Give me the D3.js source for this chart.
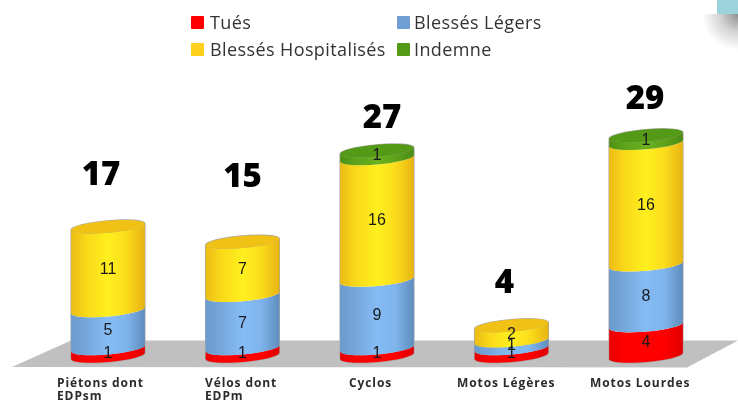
<!DOCTYPE html>
<html>
<head>
<meta charset="utf-8">
<style>
  html, body { margin: 0; background: #fff; overflow: hidden; }
  svg { display: block; filter: blur(0.5px); }
</style>
</head>
<body>
<script src="https://cdn.jsdelivr.net/npm/d3@7"></script>
<script>

  const categories = [['Piétons dont', 'EDPsm'], ['Vélos dont', 'EDPm'], ['Cyclos'], ['Motos Légères'], ['Motos Lourdes']]
  const tues = [1, 1, 1, 1, 4]
  const blessesLegers = [5, 7, 9, 1, 8]
  const blessesHospitalises = [11, 7, 16, 2, 16]
  const indemne = [0, 0, 1, 0, 1]

  const seriesNames = ['Tués', 'Blessés Légers', 'Blessés Hospitalisés', 'Indemne']
  const seriesValues = [tues, blessesLegers, blessesHospitalises, indemne]

  // label placement, the totals are not at a constant distance from the bars
  const totalDx = [-7, 0, 5, -7, -1]
  const totalDy = [42, 55, 23, 33, 27]
  const categoryLabelX = [57, 205, 349, 457, 590]

  const width = 738,
        height = 402

  const colors = {
    'Tués': {side: ['#e80000', '#ff0000', '#ff0000', '#ff0000', '#e00000'], top: '#f00000', legend: '#ff0000'},
    'Blessés Légers': {side: ['#6b9bcd', '#77a8dc', '#85bcf5', '#7fb4ec', '#5f8dbd'], top: '#6f9fd2', legend: '#6f9fd2'},
    'Blessés Hospitalisés': {side: ['#ecbc14', '#fada1a', '#fff01e', '#fbdc1c', '#e8b412'], top: '#f0c216', legend: '#fdd01e'},
    'Indemne': {side: ['#4f9015', '#5ea31a', '#6bb01f', '#5ea31a', '#4a8a14'], top: '#559a17', legend: '#559a17'}
  }

  const x = d3.scaleBand()
    .domain(d3.range(categories.length))
    .range([71, 683])
    .paddingInner(0.45)

  const y = d3.scaleLinear()
    .domain([0, 29])
    .range([356, 135.6])

  const rx = x.bandwidth() / 2,
        ry = 6,
        tilt = -5,
        dxTilt = rx * Math.cos(tilt * Math.PI / 180),
        dyTilt = rx * Math.sin(tilt * Math.PI / 180)

  const table = categories.map((c, i) => {
    const row = {i}
    seriesNames.forEach((s, j) => row[s] = seriesValues[j][i])
    return row
  })
  const stacked = d3.stack().keys(seriesNames)(table)

  const svg = d3.select('body')
    .append('svg')
      .attr('width', width)
      .attr('height', height)

  const defs = svg.append('defs')

  seriesNames.forEach((s, j) => {
    const grad = defs.append('linearGradient')
      .attr('id', `side${j}`)
    grad.selectAll('stop')
      .data(colors[s].side)
      .enter()
      .append('stop')
        .attr('offset', (d, k) => [0, 0.22, 0.5, 0.75, 1][k])
        .attr('stop-color', d => d)
  })

  const cornerGrad = defs.append('radialGradient')
    .attr('id', 'cornerShadow')
  cornerGrad.append('stop').attr('offset', 0).attr('stop-color', '#8f8f8f')
  cornerGrad.append('stop').attr('offset', 0.5).attr('stop-color', '#d4d4d4')
  cornerGrad.append('stop').attr('offset', 1).attr('stop-color', '#fff')

  // page decoration in the top right corner
  svg.append('circle')
    .attr('cx', 738)
    .attr('cy', 14)
    .attr('r', 36)
    .attr('fill', 'url(#cornerShadow)')
  svg.append('rect')
    .attr('x', 640)
    .attr('y', 0)
    .attr('width', 98)
    .attr('height', 14)
    .attr('fill', '#fff')
  svg.append('rect')
    .attr('x', 717)
    .attr('y', 0)
    .attr('width', 21)
    .attr('height', 14)
    .attr('fill', '#9cd3db')

  // floor
  svg.append('polygon')
    .attr('points', '12,367 71,340.5 738,340.5 687,367.5')
    .attr('fill', '#c0c0c0')

  function sidePath(cx, y0, y1) {
    return `M${cx - dxTilt},${y0 - dyTilt}` +
      `A${rx},${ry} ${tilt} 0 0 ${cx + dxTilt},${y0 + dyTilt}` +
      `L${cx + dxTilt},${y1 + dyTilt}` +
      `A${rx},${ry} ${tilt} 0 1 ${cx - dxTilt},${y1 - dyTilt}Z`
  }

  function topPath(cx, yTop) {
    return `M${cx - dxTilt},${yTop - dyTilt}` +
      `A${rx},${ry} ${tilt} 1 1 ${cx + dxTilt},${yTop + dyTilt}` +
      `A${rx},${ry} ${tilt} 1 1 ${cx - dxTilt},${yTop - dyTilt}Z`
  }

  const cx = i => x(i) + rx
  const totals = table.map((d, i) => d3.sum(seriesValues, s => s[i]))

  // thin grey halo round each cylinder
  svg.selectAll('.halo')
    .data(totals)
    .enter()
    .append('path')
      .attr('class', 'halo')
      .attr('d', (d, i) => sidePath(cx(i), y(0), y(d)) + topPath(cx(i), y(d)))
      .attr('fill', 'none')
      .attr('stroke', '#a8a8a8')
      .attr('stroke-width', 1.4)

  stacked.forEach((layer, j) => {
    const kept = layer.filter(d => d[1] > d[0])

    svg.selectAll(`.side${j}`)
      .data(kept)
      .enter()
      .append('path')
        .attr('class', `side${j}`)
        .attr('d', d => sidePath(cx(d.data.i), y(d[0]), y(d[1])))
        .attr('fill', `url(#side${j})`)

    svg.selectAll(`.top${j}`)
      .data(kept.filter(d => d[1] === totals[d.data.i]))
      .enter()
      .append('path')
        .attr('class', `top${j}`)
        .attr('d', d => topPath(cx(d.data.i), y(d[1])))
        .attr('fill', colors[seriesNames[j]].top)
  })

  stacked.forEach((layer, j) => {
    svg.selectAll(`.value${j}`)
      .data(layer.filter(d => d[1] > d[0]))
      .enter()
      .append('text')
        .attr('class', `value${j}`)
        .attr('x', d => cx(d.data.i))
        .attr('y', d => y((d[0] + d[1]) / 2))
        .attr('dy', '0.36em')
        .attr('text-anchor', 'middle')
        .style('font-family', '"Liberation Sans"')
        .style('font-size', '16px')
        .attr('fill', '#1a1a1a')
        .text(d => d[1] - d[0])
  })

  svg.selectAll('.total')
    .data(totals)
    .enter()
    .append('text')
      .attr('class', 'total')
      .attr('x', (d, i) => cx(i) + totalDx[i])
      .attr('y', (d, i) => y(d) - totalDy[i])
      .attr('text-anchor', 'middle')
      .style('font-family', '"Open Sans"')
      .style('font-weight', 800)
      .style('font-size', '33px')
      .attr('fill', '#000')
      .text(d => d)

  const catLabels = svg.selectAll('.catLabel')
    .data(categories)
    .enter()
    .append('text')
      .attr('class', 'catLabel')
      .attr('y', 387)
      .style('font-family', '"Open Sans"')
      .style('font-weight', 700)
      .style('font-size', '12px')
      .style('letter-spacing', '0.9px')
      .attr('fill', '#2b2b2b')

  catLabels.selectAll('tspan')
    .data((d, i) => d.map(t => ({t, i})))
    .enter()
    .append('tspan')
      .attr('x', d => categoryLabelX[d.i])
      .attr('dy', (d, k) => k ? 13 : 0)
      .text(d => d.t)

  // legend, two rows of two
  const legendX = d3.scalePoint().domain([0, 1]).range([191, 397])
  const legendY = d3.scalePoint().domain([0, 1]).range([22.5, 49.5])

  const legend = svg.selectAll('.legend')
    .data(seriesNames)
    .enter()
    .append('g')
      .attr('class', 'legend')
      .attr('transform', (d, i) => `translate(${legendX(i % 2)}, ${legendY(Math.floor(i / 2))})`)

  legend.append('rect')
    .attr('y', -6.5)
    .attr('width', 13)
    .attr('height', 13)
    .attr('rx', 1)
    .attr('fill', d => colors[d].legend)

  legend.append('text')
    .attr('x', (d, i) => i % 2 ? 17 : 19)
    .attr('dy', '0.36em')
    .style('font-family', '"Open Sans"')
    .style('font-size', '18px')
    .style('letter-spacing', '0.4px')
    .attr('fill', '#333')
    .text(d => d)

</script>
</body>
</html>
